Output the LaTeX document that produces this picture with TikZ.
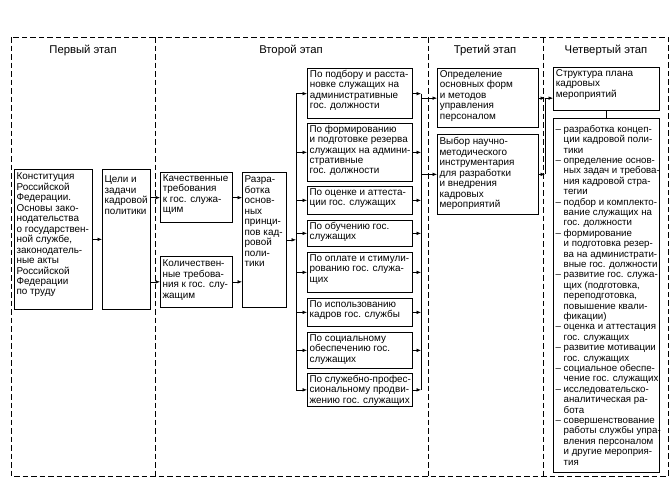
\documentclass[tikz,border=0pt]{standalone}
\usepackage{fontspec}
\setmainfont{Liberation Sans}
\usetikzlibrary{arrows.meta}
\newcommand\mkbox[7]{%
  \node[boxs,#2] (#1) at (#3,#4) {\parbox[c][\dimexpr #6pt-#4pt-3pt\relax][t]{\dimexpr #5pt-#3pt-4.5pt\relax}{\begin{tabular}[t]{@{}l@{}}#7\end{tabular}}};}
\newcommand\ind{\phantom{– }}
\begin{document}
\begin{tikzpicture}[x=1pt,y=-1pt,
  boxs/.style={draw,anchor=north west,inner xsep=2.25pt,inner ysep=1.5pt,line width=0.7pt,font=\fontsize{9.9}{10.45}\selectfont},
  bold/.style={line width=1.3pt},
  lst/.style={font=\fontsize{9.7}{10.4}\selectfont},
  arr/.style={line width=0.6pt,-{Latex[length=4.5pt,width=3.6pt]}},
  bus/.style={line width=0.6pt},
  dsh/.style={line width=0.8pt,dash pattern=on 5.5pt off 3pt},
  ttl/.style={font=\fontsize{11.3}{13}\selectfont}]
\useasboundingbox (0,0) rectangle (672,480);
% stage frames
\draw[dsh] (11,37) rectangle (668,476);
\draw[dsh] (155,37) -- (155,476);
\draw[dsh] (428,37) -- (428,476);
\draw[dsh] (543,37) -- (543,476);
\node[ttl] (st1) at (83,50) {Первый этап};
\node[ttl] (st2) at (291,50) {Второй этап};
\node[ttl] (st3) at (485,50) {Третий этап};
\node[ttl] (st4) at (606,50) {Четвертый этап};
% stage 1
\mkbox{b1}{}{14}{169}{92}{309}{\rule{0pt}{9pt}Конституция\\Российской\\Федерации.\\Основы зако-\\нодательства\\о государствен-\\ной службе,\\законодатель-\\ные акты\\Российской\\Федерации\\по труду}
\mkbox{b2}{}{102}{169}{150}{309}{\rule{0pt}{12pt}Цели и\\задачи\\кадровой\\политики}
% stage 2
\mkbox{q1}{bold}{160}{172}{232}{222}{Качественные\\требования\\к гос. служа-\\щим}
\mkbox{q2}{}{160}{256}{232}{307}{\rule{0pt}{9pt}Количествен-\\ные требова-\\ния к гос. слу-\\жащим}
\mkbox{dev}{}{242}{172}{286}{307}{\rule{0pt}{9pt}Разра-\\ботка\\основ-\\ных\\принци-\\пов кад-\\ровой\\поли-\\тики}
\mkbox{r1}{bold}{307}{68}{412}{118}{По подбору и расста-\\новке служащих на\\административные\\гос. должности}
\mkbox{r2}{}{307}{123}{412}{181}{По формированию\\и подготовке резерва\\служащих на админи-\\стративные\\гос. должности}
\mkbox{r3}{}{307}{186}{412}{214}{По оценке и аттеста-\\ции гос. служащих}
\mkbox{r4}{}{307}{220}{412}{246}{По обучению гос.\\служащих}
\mkbox{r5}{}{307}{252}{412}{292}{По оплате и стимули-\\рованию гос. служа-\\щих}
\mkbox{r6}{}{307}{298}{412}{326}{По использованию\\кадров гос. службы}
\mkbox{r7}{}{307}{332}{412}{368}{По социальному\\обеспечению гос.\\служащих}
\mkbox{r8}{}{307}{373}{412}{406}{По служебно-профес-\\сиональному продви-\\жению гос. служащих}
% stage 3
\mkbox{t1}{bold}{437}{68}{538}{127}{Определение\\основных форм\\и методов\\управления\\персоналом}
\mkbox{t2}{}{437}{134}{538}{214}{\rule{0pt}{9pt}Выбор научно-\\методического\\инструментария\\для разработки\\и внедрения\\кадровых\\мероприятий}
% stage 4
\mkbox{s1}{bold}{553}{67}{659}{110}{Структура плана\\кадровых\\мероприятий}
\mkbox{s2}{lst}{553}{118}{659}{472}{\rule{0pt}{12.5pt}– разработка концеп-\\\ind ции кадровой поли-\\\ind тики\\– определение основ-\\\ind ных задач и требова-\\\ind ния кадровой стра-\\\ind тегии\\– подбор и комплекто-\\\ind вание служащих на\\\ind гос. должности\\– формирование\\\ind и подготовка резер-\\\ind ва на администрати-\\\ind вные гос. должности\\– развитие гос. служа-\\\ind щих (подготовка,\\\ind переподготовка,\\\ind повышение квали-\\\ind фикации)\\– оценка и аттестация\\\ind гос. служащих\\– развитие мотивации\\\ind гос. служащих\\– социальное обеспе-\\\ind чение гос. служащих\\– исследовательско-\\\ind аналитическая ра-\\\ind бота\\– совершенствование\\\ind работы службы упра-\\\ind вления персоналом\\\ind и другие мероприя-\\\ind тия}
% connectors
\draw[arr] (b1.east) -- (b2.west);
\draw[arr] (b2.east |- q1.west) -- (q1.west);
\draw[arr] (b2.east |- q2.west) -- (q2.west);
\draw[arr] (q1.east) -- (q1.east -| dev.west);
\draw[arr] (q2.east) -- (q2.east -| dev.west);
\coordinate (busL) at (296,0);
\coordinate (busR) at (421,0);
\coordinate (busS) at (545,0);
\draw[arr] (dev.east) -- (dev.east -| busL);
\draw[bus] (busL |- r1.west) -- (busL |- r8.west);
\draw[bus] (busR |- r1.east) -- (busR |- r8.east);
\foreach \r in {r1,r2,r3,r4,r5,r6,r7,r8}{
  \draw[arr] (busL |- \r.west) -- (\r.west);
  \draw[arr] (\r.east) -- (\r.east -| busR);
}
\draw[arr] (busR |- t1.west) -- (t1.west);
\draw[arr] (busR |- t2.west) -- (t2.west);
\draw[arr] (t1.east) -- (t1.east -| busS);
\draw[arr] (t2.east) -- (t2.east -| busS);
\draw[bus] (t1.east -| busS) -- (t2.east -| busS);
\draw[arr] (t1.east -| busS) -- (t1.east -| s1.west);
\draw[bus] (s1.south) -- (s1.south |- s2.north);
\end{tikzpicture}
\end{document}
